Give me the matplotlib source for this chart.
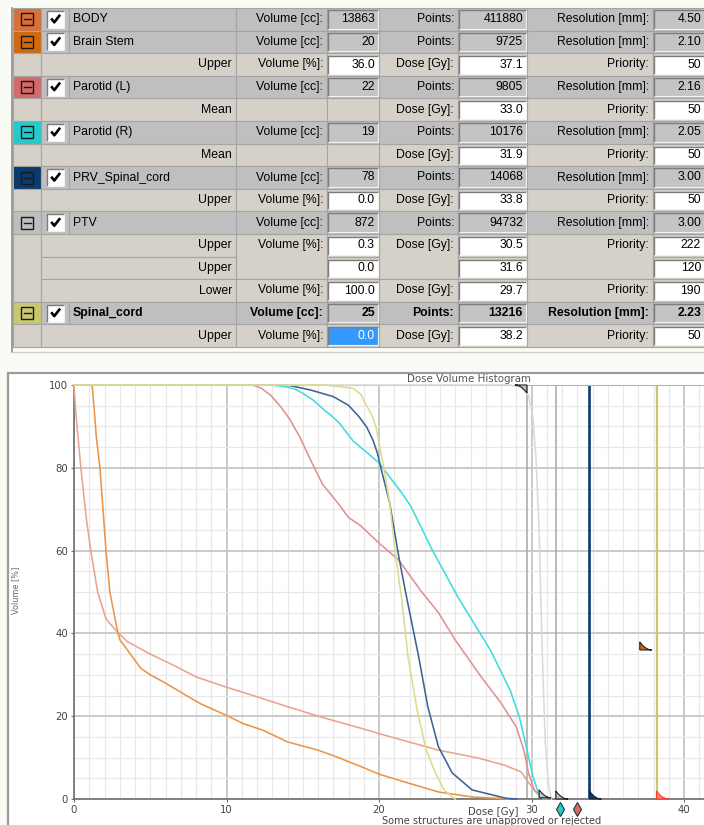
import matplotlib

matplotlib.use("Agg")
import matplotlib.pyplot as plt
from matplotlib.patches import Polygon, Rectangle
from matplotlib.ticker import MultipleLocator
import numpy as np

W, H = 704, 825

# structure list
structures = ["BODY", "Brain Stem", "Parotid (L)", "Parotid (R)", "PRV_Spinal_cord", "PTV", "Spinal_cord"]
struct_colors = ["#d8703c", "#d2690c", "#d46a6a", "#22cccc", "#0b3a6e", None, "#c9c770"]
curve_colors = ["#e9a48e", "#ec9448", "#e29090", "#3fdcdc", "#3d6394", "#dadada", "#dcdc8c"]
volume_cc = ["13863", "20", "22", "19", "78", "872", "25"]
points = ["411880", "9725", "9805", "10176", "14068", "94732", "13216"]
resolution = ["4.50", "2.10", "2.16", "2.05", "3.00", "3.00", "2.23"]
selected = 6

# optimization objectives
con_struct = [1, 2, 3, 4, 5, 5, 5, 6]
con_type = ["Upper", "Mean", "Mean", "Upper", "Upper", "Upper", "Lower", "Upper"]
con_volume = ["36.0", "", "", "0.0", "0.3", "0.0", "100.0", "0.0"]
con_dose = ["37.1", "33.0", "31.9", "33.8", "30.5", "31.6", "29.7", "38.2"]
con_priority = ["50", "50", "50", "50", "222", "120", "190", "50"]

# cumulative DVH curves, dose [Gy] / volume [%]
body_dose = [0, 0.05, 0.15, 0.3, 0.45, 0.8, 1.1, 1.55, 2.1, 2.8, 3.5, 5.0, 6.7, 8.0, 10.0, 12.0,
             14.0, 16.2, 18.9, 20.0, 23.9, 26.5, 28.2, 29.3, 30.0, 30.6, 31.0]
body_vol = [100, 97, 92, 86, 80, 68, 60, 50, 43.5, 40.5, 38, 35, 32, 29.5, 27, 24.7,
            22.3, 19.8, 17, 15.8, 11.8, 9.9, 8.2, 6.6, 3, 0.5, 0]
stem_dose = [0, 1.1, 1.2, 1.35, 1.45, 1.7, 2.1, 2.35, 2.8, 3.0, 3.5, 3.9, 4.4, 5.0, 6.0, 7.5, 8.3,
             10.0, 11.1, 12.4, 14.0, 16.0, 17.2, 18.9, 20.0, 21.7, 23.9, 26.1, 28.5]
stem_vol = [100, 100, 99.5, 93, 88, 80, 60, 50, 41.5, 38.5, 36, 34, 31.5, 30, 28, 24.7, 23,
            20.2, 18.2, 16.6, 13.8, 11.8, 10.2, 7.7, 6, 4.1, 1.7, 0.5, 0]
parl_dose = [0, 11.7, 12.3, 12.9, 13.5, 14.1, 14.8, 15.5, 15.9, 16.3, 17.3, 18.0, 18.8, 20.0,
             21.3, 22.7, 23.9, 25.0, 26.7, 28.0, 29.0, 29.5, 29.8, 30.2, 30.8]
parl_vol = [100, 100, 99.2, 97.5, 95, 92, 87.5, 82, 79, 76, 71.5, 68, 66, 61.8,
            57.7, 50.5, 45, 38.4, 29.5, 23.2, 17.4, 11.8, 6.3, 2, 0]
parr_dose = [0, 13.0, 14.0, 14.5, 15.0, 15.7, 16.4, 16.9, 17.4, 18.3, 20.0, 21.5, 22.1, 23.5,
             25.2, 27.3, 28.6, 29.2, 29.6, 30.1, 30.5, 30.8]
parr_vol = [100, 100, 99.5, 99, 98, 96.3, 94, 92.5, 90.8, 86.5, 81.2, 73.9, 70.6, 60.1,
            48.6, 36, 26.3, 19.9, 13.5, 5.4, 0.9, 0]
prv_dose = [0, 14.0, 15.5, 17.0, 18.0, 18.7, 19.2, 19.6, 19.9, 20.1, 20.7, 21.3, 21.8, 22.6,
            23.2, 23.9, 24.8, 26.1, 28.3, 29.0]
prv_vol = [100, 100, 98.8, 97.2, 95.1, 92.3, 89.8, 86.7, 83.5, 80.3, 71.5, 58.5, 48.9, 34.4,
           22.3, 12.6, 6.3, 2.2, 0.2, 0]
ptv_dose = [0, 28.5, 29.3, 29.8, 30.1, 30.3, 30.5, 30.6, 30.75, 30.9, 31.1, 31.3]
ptv_vol = [100, 100, 99.5, 97.5, 92, 82, 65, 50, 30, 14, 4, 0]
cord_dose = [0, 16.5, 17.4, 18.3, 18.8, 19.1, 19.5, 19.8, 20.0, 20.3, 20.7, 21.1, 21.5, 21.9,
             22.5, 23.1, 23.7, 24.3, 25.0]
cord_vol = [100, 100, 99.6, 99.2, 97.8, 95.5, 93, 89.9, 86, 80.3, 71.5, 58.6, 48, 34.4,
            21.5, 11.8, 6.3, 2, 0]
dvh = [(body_dose, body_vol), (stem_dose, stem_vol), (parl_dose, parl_vol), (parr_dose, parr_vol),
       (prv_dose, prv_vol), (ptv_dose, ptv_vol), (cord_dose, cord_vol)]

HEAD_BG = "#bfbfbf"
CON_BG = "#d5d1c9"
GRID = "#a4a4a4"
TOP, PITCH = 8.0, 22.6
COLS = [13, 41, 69, 236, 327, 379, 458, 527, 653, 710]
TEXT_RIGHT = 701
UI_FONT = "Liberation Sans"

fig = plt.figure(figsize=(W / 100, H / 100), dpi=100)
fig.patch.set_facecolor("#fbfbf6")
bg = fig.add_axes([0, 0, 1, 1])
bg.set_xlim(0, W)
bg.set_ylim(H, 0)
bg.axis("off")


def cell(x0, x1, y0, y1, fill):
    bg.add_patch(Rectangle((x0, y0), x1 - x0, y1 - y0, facecolor=fill, edgecolor=GRID, lw=0.8))


def sunken(x0, x1, y0, y1, fill):
    bg.add_patch(Rectangle((x0, y0), x1 - x0, y1 - y0, facecolor=fill, edgecolor="none"))
    bg.plot([x0, x0, x1], [y1, y0, y0], color="#7c7c7c", lw=1.0, solid_capstyle="butt")
    bg.plot([x0, x1, x1], [y1, y1, y0], color="#f2f2f2", lw=0.8, solid_capstyle="butt")


def label(x, y, s, ha="right", bold=False, color="black"):
    bg.text(x, y, s, ha=ha, va="center", fontsize=8.8, family=UI_FONT,
            fontweight="bold" if bold else "normal", color=color)


def minus_icon(xc, yc):
    bg.add_patch(Rectangle((xc - 6, yc - 6), 12, 12, facecolor="none", edgecolor="#1a1a1a", lw=1.0))
    bg.plot([xc - 3.5, xc + 3.5], [yc, yc], color="#1a1a1a", lw=1.0)


def checkbox(xc, yc):
    sunken(xc - 8.5, xc + 8.5, yc - 8.5, yc + 8.5, "white")
    bg.plot([xc - 3.5, xc - 1.2, xc + 3.8], [yc + 0.2, yc + 3.0, yc - 3.5], color="black", lw=1.9)


# rows: structure header followed by its objectives
rows = []
for si in range(len(structures)):
    rows.append(("head", si))
    rows += [("con", k) for k in range(len(con_struct)) if con_struct[k] == si]

for r, (kind, idx) in enumerate(rows):
    y0 = TOP + r * PITCH
    y1 = y0 + PITCH
    yc = (y0 + y1) / 2
    c = COLS
    if kind == "head":
        si = idx
        bold = si == selected
        cell(c[0], c[1], y0, y1, struct_colors[si] or HEAD_BG)
        minus_icon((c[0] + c[1]) / 2, yc)
        cell(c[1], c[2], y0, y1, HEAD_BG)
        checkbox((c[1] + c[2]) / 2 + 0.5, yc)
        cell(c[2], c[3], y0, y1, HEAD_BG)
        label(c[2] + 4, yc, structures[si], ha="left", bold=bold)
        for (a, b), txt, val in zip([(3, 4), (5, 6), (7, 8)],
                                    ["Volume [cc]:", "Points:", "Resolution [mm]:"],
                                    [volume_cc[si], points[si], resolution[si]]):
            cell(c[a], c[b], y0, y1, HEAD_BG)
            label(c[b] - 4, yc, txt, bold=bold)
            cell(c[b], c[b + 1], y0, y1, HEAD_BG)
            sunken(c[b] + 1, c[b + 1] - 1, y0 + 2, y1 - 2, "#c4c4c4")
            label(min(c[b + 1] - 4, TEXT_RIGHT), yc, val, bold=bold)
    else:
        k = idx
        si = con_struct[k]
        if k == 0 or con_struct[k - 1] != si:
            n = con_struct.count(si)
            cell(c[0], c[1], y0, y0 + n * PITCH, CON_BG)
        cell(c[1], c[3], y0, y1, CON_BG)
        label(c[3] - 4, yc, con_type[k])
        same = k > 0 and con_struct[k - 1] == si and con_type[k - 1] == con_type[k]
        if not same:
            span = 1
            while (k + span < len(con_struct) and con_struct[k + span] == si
                   and con_type[k + span] == con_type[k]):
                span += 1
            ys = y0 + span * PITCH
            cell(c[3], c[4], y0, ys, CON_BG)
            if con_volume[k]:
                label(c[4] - 4, yc, "Volume [%]:")
            cell(c[5], c[6], y0, ys, CON_BG)
            label(c[6] - 4, yc, "Dose [Gy]:")
            cell(c[7], c[8], y0, ys, CON_BG)
            label(c[8] - 4, yc, "Priority:")
        for b, val in zip([4, 6, 8], [con_volume[k], con_dose[k], con_priority[k]]):
            cell(c[b], c[b + 1], y0, y1, CON_BG)
            if not val:
                continue
            tx = min(c[b + 1] - 4, TEXT_RIGHT)
            if b == 4 and con_struct[k] == selected:
                sunken(c[b] + 1, c[b + 1] - 1, y0 + 3, y1 - 2, "#3399ff")
                bg.add_patch(Rectangle((c[b] + 1, y0 + 3), c[b + 1] - c[b] - 2, PITCH - 5,
                                       facecolor="none", edgecolor="#5a8ad0", lw=0.8))
                label(tx, yc, val, color="white")
            else:
                sunken(c[b] + 1, c[b + 1] - 1, y0 + 3, y1 - 2, "white")
                label(tx, yc, val)

table_bottom = TOP + len(rows) * PITCH
bg.plot([12, 12], [TOP, table_bottom + 5], color="#8c8c8c", lw=1.2)
bg.plot([12, W], [table_bottom + 5, table_bottom + 5], color="#d0d0d0", lw=1.0)

# DVH panel
bg.add_patch(Rectangle((8, 373), W, H, facecolor="white", edgecolor="#9c9c9c", lw=1.6))
bg.text(469, 379, "Dose Volume Histogram", ha="center", va="center", fontsize=7.4, color="#555555")
bg.text(16, 590, "Volume [%]", ha="center", va="center", rotation=90, fontsize=5.9, color="#666666")
bg.text(493, 812, "Dose [Gy]", ha="center", va="center", fontsize=7.3, color="#444444")
bg.text(492, 821.5, "Some structures are unapproved or rejected", ha="center", va="center",
        fontsize=7.1, color="#444444")

PX_PER_GY = 15.25
ax = fig.add_axes([74 / W, (H - 799) / H, (W - 74) / W, 414 / H])
ax.set_xlim(0, (W - 74) / PX_PER_GY)
ax.set_ylim(0, 100)
ax.set_facecolor("white")
ax.xaxis.set_major_locator(MultipleLocator(10))
ax.xaxis.set_minor_locator(MultipleLocator(1))
ax.yaxis.set_major_locator(MultipleLocator(20))
ax.yaxis.set_minor_locator(MultipleLocator(5))
ax.grid(which="major", color="#c6c6c6", lw=1.3)
ax.grid(which="minor", color="#e8e8e8", lw=0.9)
ax.set_axisbelow(True)
ax.spines["right"].set_visible(False)
ax.spines["top"].set_color("#b4b4b4")
ax.spines["top"].set_linewidth(0.8)
for side in ["left", "bottom"]:
    ax.spines[side].set_color("#6e6e6e")
    ax.spines[side].set_linewidth(1.2)
ax.tick_params(which="major", length=2.5, width=0.8, color="#6e6e6e", pad=1.8,
               labelsize=7.3, labelcolor="#444444")
ax.tick_params(which="minor", length=0)

# vertical lines for zero-volume upper and full-volume lower objectives
line_widths = {4: 1.9, 5: 1.1, 6: 1.6}
for k in range(len(con_struct)):
    if not con_volume[k]:
        continue
    v = float(con_volume[k])
    if (con_type[k] == "Upper" and v == 0) or (con_type[k] == "Lower" and v == 100):
        si = con_struct[k]
        ax.axvline(float(con_dose[k]), color=struct_colors[si] or "#a6a6a6",
                   lw=line_widths.get(si, 1.2), zorder=2)

for si, (d, v) in enumerate(dvh):
    ax.plot(d, v, color=curve_colors[si], lw=1.15, clip_on=False, zorder=3)

# objective markers
tw, th = 12 / PX_PER_GY, 8 / 4.14
t = np.linspace(0, 1, 20)
for k in range(len(con_struct)):
    si = con_struct[k]
    dose = float(con_dose[k])
    fill = struct_colors[si] or "#c2c2c2"
    edge = "#222222"
    if si == selected:
        fill, edge = "#ff8a6a", "#ff3b2a"
    if con_type[k] == "Mean":
        ax.plot([dose], [-2.4], marker="d", ms=7.5, mfc=struct_colors[si], mec="#333333",
                mew=0.8, clip_on=False, zorder=5)
        continue
    vol = float(con_volume[k])
    if con_type[k] == "Upper":
        xs = np.r_[dose, dose + tw * t]
        ys = np.r_[vol, vol + th * (1 - t) ** 2]
    else:
        xs = np.r_[dose, dose - tw * t]
        ys = np.r_[vol, vol - th * (1 - t) ** 2]
    ax.add_patch(Polygon(np.c_[xs, ys], closed=True, facecolor=fill, edgecolor=edge,
                         lw=0.8, clip_on=False, zorder=5))

fig.savefig("out.png", dpi=100, facecolor=fig.get_facecolor())
plt.close(fig)
